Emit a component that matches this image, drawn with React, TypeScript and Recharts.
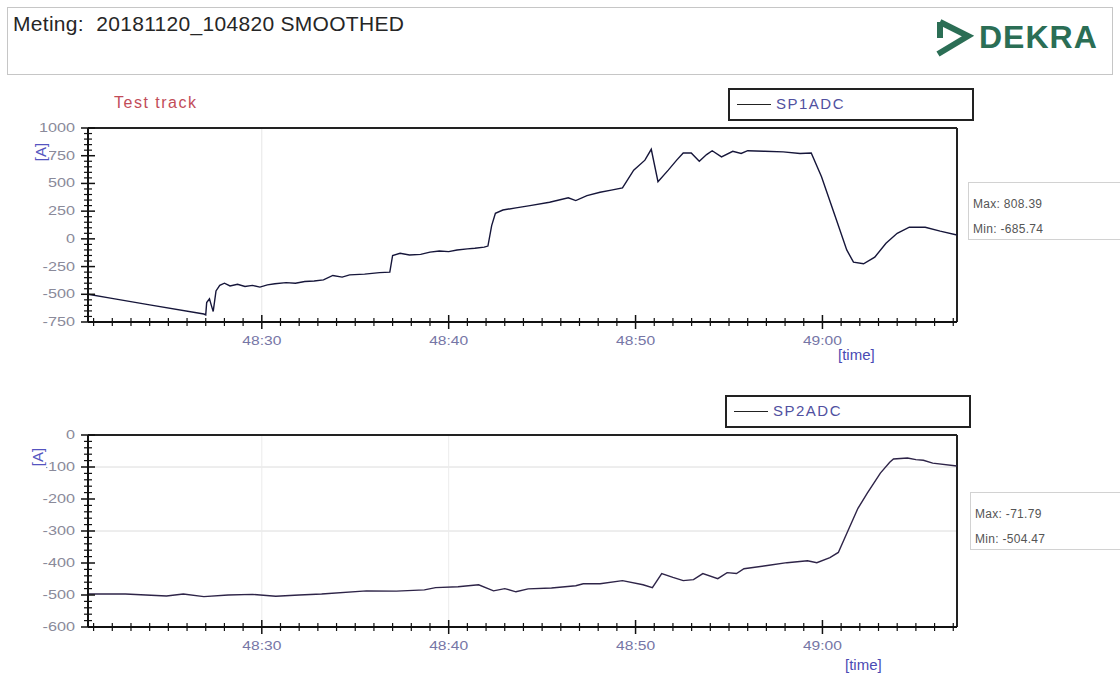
import { LineChart, Line, XAxis, YAxis, ReferenceLine } from "recharts";

// seconds after 48:00 (so 30 = 48:30, 60 = 49:00)
const sp1Times = [
  20.7, 21.9, 24.0, 26.9, 27.0, 27.05, 27.2, 27.3, 27.4, 27.55, 27.75, 28.0, 28.3, 28.7, 29.1, 29.5,
  29.9, 30.3, 30.7, 31.3, 31.8, 32.3, 32.8, 33.3, 33.8, 34.3, 34.7, 35.5, 36.3, 36.85, 37.0, 37.4,
  37.9, 38.5, 39.0, 39.5, 40.0, 40.45, 41.0, 41.4, 41.9, 42.1, 42.3, 42.5, 42.9, 43.6, 44.35, 45.4,
  46.4, 46.8, 47.4, 48.1, 48.7, 49.3, 49.9, 50.5, 50.84, 51.2, 51.75, 52.2, 52.55, 52.98, 53.41, 53.8,
  54.1, 54.6, 55.2, 55.65, 56.0, 56.9, 57.9, 58.8, 59.4, 59.95, 60.75, 61.3, 61.66, 62.2, 62.8, 63.4,
  64.0, 64.65, 65.5, 66.3, 67.2,
];
const sp1Values = [
  -500, -535, -595, -678, -686, -575, -540, -600, -655, -470, -420, -400, -425, -410, -430, -420,
  -435, -415, -405, -395, -400, -385, -380, -370, -330, -345, -325, -318, -305, -300, -150, -130,
  -145, -140, -120, -110, -115, -100, -90, -85, -75, -65, 120, 230, 260, 280, 300, 330,
  370, 345, 390, 420, 440, 460, 620, 710, 808, 515, 620, 710, 775, 775, 700, 760,
  795, 740, 790, 770, 795, 790, 785, 770, 775, 560, 170, -100, -210, -225, -165, -40,
  50, 105, 105, 70, 35,
];

const sp2Times = [
  20.7, 22.7, 24.9, 25.8, 26.9, 28.2, 29.5, 30.75, 32.0, 33.2, 35.6, 37.2, 38.7, 39.3, 40.5, 41.6,
  42.4, 43.0, 43.6, 44.25, 45.5, 46.8, 47.2, 48.1, 49.3, 50.4, 50.9, 51.4, 52.0, 52.55, 53.1, 53.6,
  54.4, 54.9, 55.4, 55.8, 57.05, 58.1, 59.2, 59.7, 60.4, 60.85, 61.3, 61.9, 62.4, 63.1, 63.6, 63.8,
  64.55, 65.0, 65.4, 65.9, 67.2,
];
const sp2Values = [
  -497, -497, -503, -497, -505, -500, -498, -504, -500, -497, -487, -488, -484, -477, -474, -468,
  -487, -480, -490, -481, -478, -471, -465, -465, -455, -468, -477, -433, -445, -455, -452, -433,
  -449, -430, -433, -418, -408, -399, -393, -399, -383, -367, -308, -229, -182, -119, -85, -75,
  -72, -77, -79, -88, -97,
];

const timeDomain: [number, number] = [20.7, 67.2];
const timeMajor = [30, 40, 50, 60];
const sp1Major = [-750, -500, -250, 0, 250, 500, 750, 1000];
const sp2Major = [-600, -500, -400, -300, -200, -100, 0];

const sp1Data = sp1Times.map((t, i) => ({ t, v: sp1Values[i] }));
const sp2Data = sp2Times.map((t, i) => ({ t, v: sp2Values[i] }));

const steps = (from: number, to: number, step: number) => {
  const out: number[] = [];
  for (let v = from; v <= to + 1e-9; v += step) out.push(v);
  return out;
};
const timeTicks = steps(21, 67, 1);
const sp1Ticks = steps(-750, 1000, 50);
const sp2Ticks = steps(-600, 0, 20);

const fmtTime = (v: number) => `${48 + Math.floor(v / 60)}:${String(v % 60).padStart(2, "0")}`;

const FONT = "'Liberation Sans', Arial, sans-serif";

const TimeTick = (props: any) => {
  const { x, y, payload } = props;
  const major = timeMajor.includes(payload.value);
  const h = major ? 7 : 4;
  return (
    <g>
      <line x1={x} x2={x} y1={y - h} y2={y + h} stroke="#111" strokeWidth={major ? 1.5 : 1.2} />
      {major && (
        <text
          transform={`translate(${x},${y + 23}) scale(1.2,1)`}
          textAnchor="middle"
          fontSize={13}
          fontFamily={FONT}
          fill="#7676a6"
        >
          {fmtTime(payload.value)}
        </text>
      )}
    </g>
  );
};

const makeValueTick = (majors: number[]) => (props: any) => {
  const { x, y, payload } = props;
  const major = majors.includes(payload.value);
  const h = major ? 7 : 4;
  return (
    <g>
      <line x1={x - h} x2={x + h} y1={y} y2={y} stroke="#111" strokeWidth={major ? 1.5 : 1.2} />
      {major && (
        <text
          transform={`translate(${x - 13},${y + 4}) scale(1.35,1)`}
          textAnchor="end"
          fontSize={12}
          fontFamily={FONT}
          fill="#8a8a9a"
        >
          {payload.value}
        </text>
      )}
    </g>
  );
};
const Sp1Tick = makeValueTick(sp1Major);
const Sp2Tick = makeValueTick(sp2Major);

const abs = (s: any) => ({ position: "absolute" as const, ...s });

function LegendBox({ left, top, name }: { left: number; top: number; name: string }) {
  return (
    <div style={abs({ left, top, width: 242, height: 29, border: "2px solid #222", background: "#fff" })}>
      <div style={abs({ left: 7, top: 14, width: 34, height: 0, borderTop: "1px solid #222" })} />
      <div style={abs({ left: 46, top: 5, fontSize: 15, color: "#5050a0", letterSpacing: 1.5, fontFamily: FONT })}>
        {name}
      </div>
    </div>
  );
}

function StatBox({ left, top, max, min }: { left: number; top: number; max: string; min: string }) {
  const txt = { fontSize: 12, color: "#555", fontFamily: FONT, letterSpacing: 0.3 };
  return (
    <div style={abs({ left, top, width: 152, height: 56, border: "1px solid #d2d2d2", borderRight: "none" })}>
      <div style={abs({ left: 4, top: 14, ...txt })}>Max: {max}</div>
      <div style={abs({ left: 4, top: 39, ...txt })}>Min: {min}</div>
    </div>
  );
}

function AxisUnit({ left, top }: { left: number; top: number }) {
  return (
    <div
      style={abs({
        left,
        top,
        width: 26,
        height: 16,
        lineHeight: "16px",
        textAlign: "center",
        transform: "rotate(-90deg)",
        fontSize: 15,
        color: "#5454c0",
        background: "#fff",
        fontFamily: FONT,
      })}
    >
      [A]
    </div>
  );
}

export default function App() {
  return (
    <div style={abs({ left: 0, top: 0, width: 1120, height: 678, background: "#fff", fontFamily: FONT, overflow: "hidden" })}>
      {/* header */}
      <div style={abs({ left: 7, top: 7, width: 1104, height: 66, border: "1px solid #c6c6c6" })} />
      <div style={abs({ left: 13, top: 12, fontSize: 21, color: "#262626", whiteSpace: "pre", letterSpacing: 0.3 })}>
        {"Meting:  20181120_104820 SMOOTHED"}
      </div>
      <svg style={abs({ left: 930, top: 14, overflow: "visible" })} width={180} height={50}>
        <path d="M 10 8 L 10 24 M 10 8 L 38 22 L 8 40" fill="none" stroke="#2b6e55" strokeWidth={6} strokeLinejoin="miter" />
        <text x={49} y={34} fontSize={32} fontWeight="bold" fill="#2b6e55" fontFamily={FONT} letterSpacing={1}>
          DEKRA
        </text>
      </svg>

      {/* top chart */}
      <div style={abs({ left: 114, top: 94, fontSize: 16, color: "#c24c58", letterSpacing: 1.5 })}>Test track</div>
      <LegendBox left={728} top={88} name="SP1ADC" />
      <StatBox left={968} top={182} max="808.39" min="-685.74" />
      <div style={abs({ left: 0, top: 80 })}>
        <LineChart width={1120} height={290} data={sp1Data} margin={{ top: 48, right: 163, bottom: 8, left: 28 }}>
          <XAxis
            dataKey="t"
            type="number"
            domain={timeDomain}
            allowDataOverflow
            ticks={timeTicks}
            interval={0}
            tick={<TimeTick />}
            tickLine={false}
            tickSize={0}
            tickMargin={0}
            height={40}
            axisLine={{ stroke: "#111", strokeWidth: 2 }}
          />
          <YAxis
            type="number"
            domain={[-750, 1000]}
            allowDataOverflow
            ticks={sp1Ticks}
            interval={0}
            tick={<Sp1Tick />}
            tickLine={false}
            tickSize={0}
            tickMargin={0}
            width={60}
            axisLine={{ stroke: "#111", strokeWidth: 2 }}
          />
          <ReferenceLine x={30} stroke="#e6e6e6" />
          <ReferenceLine y={1000} stroke="#222" strokeWidth={2} />
          <ReferenceLine x={timeDomain[1]} stroke="#222" strokeWidth={2} />
          <Line type="linear" dataKey="v" stroke="#16163a" strokeWidth={1.4} dot={false} isAnimationActive={false} />
        </LineChart>
      </div>
      <AxisUnit left={28} top={144} />
      <div style={abs({ left: 838, top: 346, fontSize: 15, color: "#4a4ab4" })}>[time]</div>

      {/* bottom chart */}
      <LegendBox left={725} top={395} name="SP2ADC" />
      <StatBox left={970} top={492} max="-71.79" min="-504.47" />
      <div style={abs({ left: 0, top: 390 })}>
        <LineChart width={1120} height={288} data={sp2Data} margin={{ top: 45, right: 163, bottom: 11, left: 28 }}>
          <XAxis
            dataKey="t"
            type="number"
            domain={timeDomain}
            allowDataOverflow
            ticks={timeTicks}
            interval={0}
            tick={<TimeTick />}
            tickLine={false}
            tickSize={0}
            tickMargin={0}
            height={40}
            axisLine={{ stroke: "#111", strokeWidth: 2 }}
          />
          <YAxis
            type="number"
            domain={[-600, 0]}
            allowDataOverflow
            ticks={sp2Ticks}
            interval={0}
            tick={<Sp2Tick />}
            tickLine={false}
            tickSize={0}
            tickMargin={0}
            width={60}
            axisLine={{ stroke: "#111", strokeWidth: 2 }}
          />
          <ReferenceLine y={-100} stroke="#dcdcdc" />
          <ReferenceLine y={-300} stroke="#dcdcdc" />
          <ReferenceLine x={30} stroke="#ececec" />
          <ReferenceLine x={40} stroke="#ececec" />
          <ReferenceLine y={0} stroke="#222" strokeWidth={2} />
          <ReferenceLine x={timeDomain[1]} stroke="#222" strokeWidth={2} />
          <Line type="linear" dataKey="v" stroke="#2e2448" strokeWidth={1.4} dot={false} isAnimationActive={false} />
        </LineChart>
      </div>
      <AxisUnit left={25} top={449} />
      <div style={abs({ left: 845, top: 656, fontSize: 15, color: "#4a4ab4" })}>[time]</div>
    </div>
  );
}
